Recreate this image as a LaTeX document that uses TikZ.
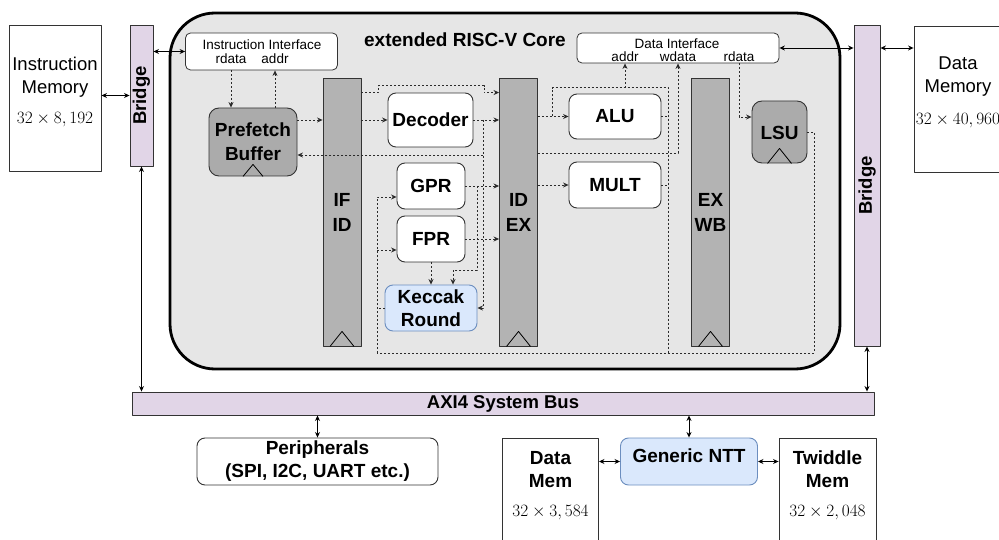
\documentclass[tikz,border=0pt]{standalone}
\usepackage[no-math]{fontspec}
\setmainfont{Liberation Sans}
\usetikzlibrary{arrows.meta,calc}
\definecolor{edge}{HTML}{333333}
\definecolor{corefill}{HTML}{E6E6E6}
\definecolor{regfill}{HTML}{B3B3B3}
\definecolor{unitfill}{HTML}{ABABAB}
\definecolor{lilac}{HTML}{E1D5E7}
\definecolor{bluefill}{HTML}{DAE8FC}
\definecolor{blueedge}{HTML}{6C8EBF}
\definecolor{sigc}{HTML}{2B2B2B}
\begin{document}
\begin{tikzpicture}[x=1pt,y=-1pt,line join=round,
  box/.style={draw=edge,line width=0.9pt,inner sep=0pt,align=center},
  blk/.style={box,fill=white,rounded corners=8pt,font=\bfseries\fontsize{19}{23}\selectfont},
  unit/.style={box,fill=unitfill,rounded corners=10pt,font=\bfseries\fontsize{19}{24}\selectfont},
  reg/.style={box,fill=regfill,minimum width=38pt,minimum height=268pt,font=\bfseries\fontsize{19}{25}\selectfont},
  mem/.style={box,fill=white},
  iface/.style={box,fill=white,rounded corners=5pt,line width=0.8pt},
  bar/.style={box,fill=lilac},
  hot/.style={fill=bluefill,draw=blueedge},
  txt/.style={inner sep=0pt,align=center},
  memtxt/.style={txt,font=\fontsize{18.5}{23}\selectfont},
  boldtxt/.style={txt,font=\bfseries\fontsize{19}{23}\selectfont},
  small/.style={txt,font=\fontsize{13.5}{15}\selectfont},
  size/.style={txt,font=\fontsize{16.5}{18}\selectfont},
  conn/.style={line width=0.9pt,{Stealth[length=5.5pt,width=5pt]}-{Stealth[length=5.5pt,width=5pt]}},
  sig/.style={draw=sigc,line width=0.8pt,dash pattern=on 2pt off 2pt},
  sigarr/.style={sig,-{Stealth[length=5.5pt,width=5pt]}},
  clkline/.style={draw=black,line width=0.8pt}]
\useasboundingbox (0,0) rectangle (999,540);

% ---------- core outline ----------
\node[draw=black,line width=2.8pt,fill=corefill,rounded corners=45pt,
      minimum width=670pt,minimum height=356pt,inner sep=0pt] (core) at (505,191) {};
\node[txt,font=\bfseries\fontsize{19}{23}\selectfont] (coretitle) at (465,40) {extended RISC-V Core};

% ---------- instruction side ----------
\node[mem,minimum width=92pt,minimum height=146pt] (imem) at (55,98) {};
\node[memtxt] (imemtxt) at (55,77) {Instruction\\Memory};
\node[size] (imemsize) at (55,120) {$32\times 8,192$};
\node[bar,minimum width=23pt,minimum height=141pt] (bridgeL) at (141.5,95.5) {};
\node[txt,rotate=90,font=\bfseries\fontsize{18.5}{20}\selectfont] (bridgeLtxt) at (bridgeL) {Bridge};

\node[iface,minimum width=152pt,minimum height=37pt] (iif) at (261.5,51.5) {};
\node[small] (iiftxt) at (262,45) {Instruction Interface};
\node[small] (irdata) at (231,59) {rdata};
\node[small] (iaddr) at (275,59) {addr};

\node[unit,minimum width=88pt,minimum height=68pt] (pf) at (253,142) {Prefetch\\Buffer};

% ---------- pipeline registers ----------
\node[reg] (ifid) at (342,212) {IF\\ID};
\node[reg] (idex) at (518.5,212) {ID\\EX};
\node[reg] (exwb) at (710.5,212) {EX\\WB};

% ---------- decode stage ----------
\node[blk,minimum width=85pt,minimum height=54pt] (dec) at (430.5,120) {Decoder};
\node[blk,minimum width=68pt,minimum height=46pt] (gpr) at (431,186) {GPR};
\node[blk,minimum width=68pt,minimum height=46pt] (fpr) at (431,239) {FPR};
\node[blk,hot,minimum width=92pt,minimum height=46pt] (kec) at (431,308) {Keccak\\Round};

% ---------- execute stage ----------
\node[blk,minimum width=92pt,minimum height=45pt] (alu) at (615,116.5) {ALU};
\node[blk,minimum width=92pt,minimum height=46pt] (mult) at (615,185) {MULT};
\node[unit,minimum width=55pt,minimum height=62pt] (lsu) at (779.5,132) {};
\node[boldtxt] (lsutxt) at (779.5,133) {LSU};

\node[iface,minimum width=202pt,minimum height=30pt] (dif) at (678,48) {};
\node[small] (diftxt) at (677,44) {Data Interface};
\node[small] (daddr) at (625,56.5) {addr};
\node[small] (dwdata) at (678,56.5) {wdata};
\node[small] (drdata) at (739,56.5) {rdata};

% ---------- data side ----------
\node[bar,minimum width=26pt,minimum height=321pt] (bridgeR) at (867,185.5) {};
\node[txt,rotate=90,font=\bfseries\fontsize{18.5}{20}\selectfont] (bridgeRtxt) at (bridgeR) {Bridge};
\node[mem,minimum width=88pt,minimum height=146pt] (dmem) at (958,99) {};
\node[memtxt] (dmemtxt) at (958,77) {Data\\Memory};
\node[size] (dmemsize) at (958,121) {$32\times 40,960$};

% ---------- system bus and peripherals ----------
\node[bar,minimum width=742pt,minimum height=23pt,font=\bfseries\fontsize{18.5}{20}\selectfont] (bus) at (503,403.5) {AXI4 System Bus};
\node[blk,minimum width=241pt,minimum height=47pt] (periph) at (317.5,461.5) {Peripherals\\(SPI, I2C, UART etc.)};

\node[mem,minimum width=96pt,minimum height=110pt] (datm) at (550.5,493) {};
\node[boldtxt] (datmtxt) at (550.5,469.5) {Data\\Mem};
\node[size] (datmsize) at (550.5,513) {$32\times 3,584$};
\node[blk,hot,minimum width=137pt,minimum height=47pt] (ntt) at (689,461.5) {};
\node[boldtxt] (ntttxt) at (689,456) {Generic NTT};
\node[mem,minimum width=97pt,minimum height=110pt] (twm) at (827.5,493) {};
\node[boldtxt] (twmtxt) at (827.5,469.5) {Twiddle\\Mem};
\node[size] (twmsize) at (827.5,513) {$32\times 2,048$};

% ---------- solid bus connections ----------
\draw[conn] (imem.east |- bridgeL.center) -- (bridgeL.west);
\draw[conn] (bridgeL.east |- iif.center) -- (iif.west);
\draw[conn] (bridgeL.south) -- (bridgeL.south |- bus.north);
\draw[conn] (dif.east) -- (dif.east -| bridgeR.west);
\draw[conn] (bridgeR.east |- dif.east) -- (dmem.west |- dif.east);
\draw[conn] (bridgeR.south) -- (bridgeR.south |- bus.north);
\draw[conn] (periph.north) -- (periph.north |- bus.south);
\draw[conn] (ntt.north) -- (ntt.north |- bus.south);
\draw[conn] (datm.east |- ntt.west) -- (ntt.west);
\draw[conn] (ntt.east) -- (ntt.east -| twm.west);

% ---------- fetch signals ----------
\draw[sigarr] (irdata |- iif.south) -- (irdata |- pf.north);
\draw[sigarr] (iaddr |- pf.north) -- (iaddr |- iif.south);
\draw[sigarr] (pf.east |- dec.west) -- (ifid.west |- dec.west);
\draw[sigarr] (ifid.east |- dec.west) -- (dec.west);
\draw[sigarr] (dec.east) -- (dec.east -| idex.west);
\coordinate (byp) at ($(ifid.north east)+(0,15)$);
\draw[sigarr] (byp) -- ++(17,0) -- ++(0,-7) -| ($(idex.north west)+(-15,15)$) -- ($(idex.north west)+(0,15)$);

% decoder feedback to the prefetch buffer and control to Keccak
\coordinate (jdec) at ($(dec.east)+(10,0)$);
\coordinate (pfin) at ($(pf.east)+(0,13)$);
\draw[sigarr] (jdec) |- (kec.east);
\draw[sigarr] (jdec |- pfin) -- (pfin);

% register file reads
\draw[sigarr] (gpr.east) -- (gpr.east -| idex.west);
\draw[sigarr] (fpr.east) -- (fpr.east -| idex.west);
\coordinate (jgpr) at ($(gpr.east)+(12,0)$);
\draw[sigarr] (jgpr) -- ++(0,84) -| ($(kec.north)+(22,0)$);
\draw[sigarr] (fpr.south) -- (fpr.south |- kec.north);

% ---------- execute signals ----------
\draw[sigarr] (idex.east |- alu.west) -- (alu.west);
\draw[sigarr] (idex.east |- mult.west) -- (mult.west);
\coordinate (jalu) at ($(alu.west)+(-16,0)$);
\coordinate (jtop) at ($(alu.north east)+(7,-6)$);
\coordinate (wbL) at (377,353);
\coordinate (wbR) at (814,353);
\coordinate (exj) at (jtop |- wbL);
\draw[sig] (jalu) |- (jtop) -- (exj);
\draw[sig] (alu.east) -- (alu.east -| exj);
\draw[sig] (mult.east) -- (mult.east -| exj);
\draw[sigarr] (daddr |- jtop) -- (daddr |- dif.south);
\coordinate (wdsrc) at ($(idex.east)+(0,-59)$);
\draw[sigarr] (wdsrc) -| (dwdata |- dif.south);
\draw[sigarr] (drdata |- dif.south) |- ($(lsu.west)+(0,-15)$);

% ---------- write back ----------
\coordinate (gin) at ($(gpr.west)+(0,11)$);
\coordinate (fin) at ($(fpr.west)+(0,11)$);
\draw[sig] (lsu.east) -| (wbR) -- (wbL);
\draw[sigarr] (wbL) |- (gin);
\draw[sigarr] (wbL |- fin) -- (fin);
\draw[sig] (kec.west) -- (kec.west -| wbL);

% ---------- clock marks ----------
\draw[clkline] ($(ifid.south)+(-12,0)$) -- ++(12,-15) -- ++(12,15);
\draw[clkline] ($(idex.south)+(-12,0)$) -- ++(12,-15) -- ++(12,15);
\draw[clkline] ($(exwb.south)+(-12,0)$) -- ++(12,-15) -- ++(12,15);
\draw[clkline] ($(pf.south)+(-10,0)$) -- ++(10,-12) -- ++(10,12);
\draw[clkline] ($(lsu.south)+(-12,0)$) -- ++(12,-15) -- ++(12,15);
\end{tikzpicture}
\end{document}
